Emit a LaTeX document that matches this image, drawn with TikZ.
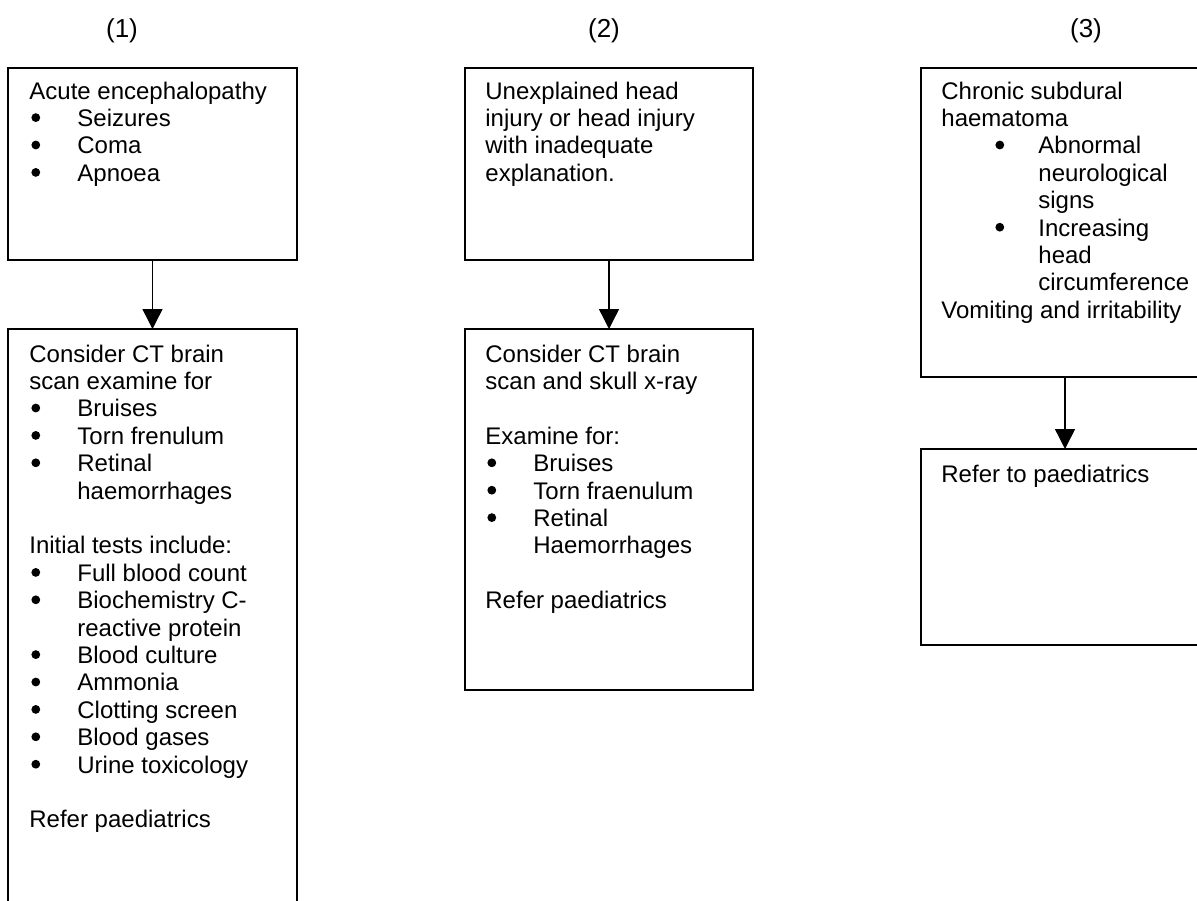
\documentclass[tikz,border=0pt]{standalone}
\usepackage{fontspec}
\setmainfont{Liberation Sans}
\usetikzlibrary{arrows.meta}
\newcommand\bulletmark{\hspace*{1pt}\tikz[baseline=-4.4pt]\fill[black] (0pt,0pt) circle[radius=2.2pt];}
\newcommand\itm[1]{\par\hangindent=24pt\hangafter=1\noindent\makebox[24pt][l]{\bulletmark}#1}
\newcommand\itmb[1]{\par\hangindent=48.5pt\hangafter=1\noindent\hspace*{26pt}\makebox[22.5pt][l]{\bulletmark}#1}
\newcommand\emptyln{\par\mbox{}\par\noindent}
\begin{document}
\begin{tikzpicture}[x=0.5pt,y=-0.5pt,
  box/.style={draw=black, line width=0.7pt, anchor=north west, inner sep=0pt, outer sep=0pt},
  conn/.style={draw=black, line width=0.7pt, -{Triangle[width=10pt,length=10pt]}},
  txt/.style={anchor=base west, inner sep=0pt, font=\fontsize{12}{13.7}\selectfont},
  lbl/.style={inner sep=0pt, font=\fontsize{13}{15}\selectfont}]
\useasboundingbox (0,0) rectangle (1197,900);
\clip (0,0) rectangle (1197,900);

% column labels
\node[lbl] (l1) at (122,31) {(1)};
\node[lbl] (l2) at (604,31) {(2)};
\node[lbl] (l3) at (1086,31) {(3)};

% boxes
\node[box, minimum width=144.5pt, minimum height=96pt] (b1) at (8,68) {};
\node[box, minimum width=144.5pt, minimum height=295.5pt] (b1b) at (8,329) {};
\node[box, minimum width=144pt, minimum height=96pt] (b2) at (465,68) {};
\node[box, minimum width=144pt, minimum height=180.5pt] (b2b) at (465,329) {};
\node[box, minimum width=144pt, minimum height=154.5pt] (b3) at (921,68) {};
\node[box, minimum width=144pt, minimum height=98pt] (b3b) at (921,449) {};

% connectors
\draw[conn] (b1.south) -- (b1b.north);
\draw[conn] (b2.south) -- (b2b.north);
\draw[conn] (b3.south) -- (b3b.north);

% texts
\node[txt] (t1) at (29,99) {\parbox[t]{130pt}{Acute encephalopathy\itm{Seizures}\itm{Coma}\itm{Apnoea}}};
\node[txt] (t1b) at (29,362) {\parbox[t]{130pt}{Consider CT brain\\scan examine for\itm{Bruises}\itm{Torn frenulum}\itm{Retinal\\haemorrhages}\emptyln Initial tests include:\itm{Full blood count}\itm{Biochemistry C-\\reactive protein}\itm{Blood culture}\itm{Ammonia}\itm{Clotting screen}\itm{Blood gases}\itm{Urine toxicology}\emptyln Refer paediatrics}};
\node[txt] (t2) at (485,99) {\parbox[t]{130pt}{Unexplained head\\injury or head injury\\with inadequate\\explanation.}};
\node[txt] (t2b) at (485,362) {\parbox[t]{130pt}{Consider CT brain\\scan and skull x-ray\emptyln Examine for:\itm{Bruises}\itm{Torn fraenulum}\itm{Retinal\\Haemorrhages}\emptyln Refer paediatrics}};
\node[txt] (t3) at (941,99) {\parbox[t]{130pt}{Chronic subdural\\haematoma\itmb{Abnormal\\neurological\\signs}\itmb{Increasing\\head\\circumference}\par\noindent Vomiting and irritability}};
\node[txt] (t3b) at (941,482) {\parbox[t]{130pt}{Refer to paediatrics}};
\end{tikzpicture}
\end{document}
